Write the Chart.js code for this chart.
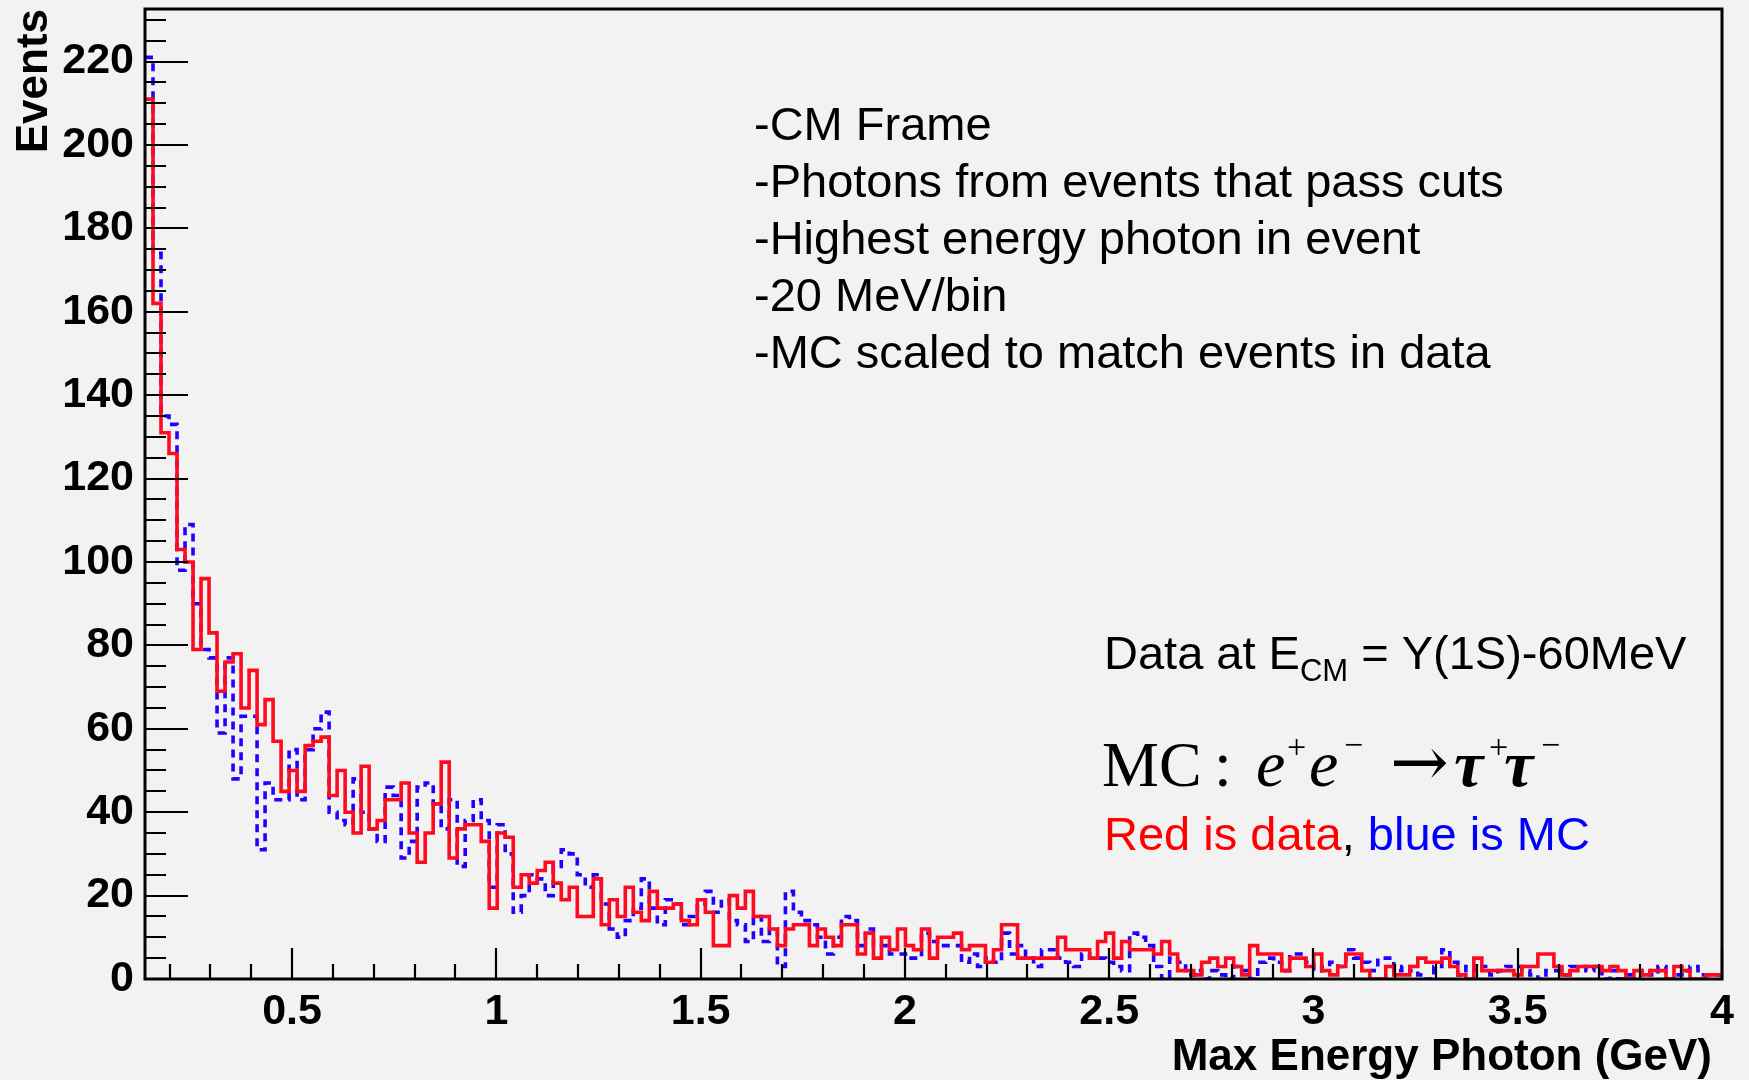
<!DOCTYPE html>
<html>
<head>
<meta charset="utf-8">
<script src="https://cdn.jsdelivr.net/npm/chart.js@4.4.1/dist/chart.umd.min.js"></script>
<style>
html,body{margin:0;padding:0;background:#f2f2f2;}
canvas{display:block;}
</style>
</head>
<body>
<canvas id="c" width="1749" height="1080"></canvas>
<script>
// ---- axis ranges ----
const xMin = 0.14;
const xMax = 4.0;
const yMin = 0;
const yMax = 232.6;

// ---- histogram contents (events per bin, bins of equal width from xMin to xMax) ----
const dataCounts = [
 211,162,131,126,103,100,79,96,83,69,76,78,65,74,61,67,57,45,50,45,
 56,57,58,44,50,40,35,51,36,38,43,43,47,35,28,35,42,52,29,36,37,37,33,17,
 35,34,22,25,23,26,28,23,19,22,15,15,24,13,19,15,22,16,14,21,17,17,18,14,13,19,
 16,8,8,20,17,21,15,15,12,8,12,13,13,8,12,10,8,13,13,6,11,5,10,7,
 12,8,7,12,5,10,10,11,7,8,8,4,7,13,13,5,5,5,5,5,10,7,7,7,
 5,9,11,5,9,7,7,7,6,9,6,2,2,1,4,5,3,5,3,1,8,6,6,6,2,5,
 5,3,6,2,1,3,6,6,2,0,0,3,1,1,3,5,4,4,5,3,1,0,5,2,2,2,
 2,1,3,3,6,6,3,1,2,3,3,3,2,3,2,0,2,1,2,2,0,3,2,0,0,1,1
];
const mcCounts = [
 221,174,135,133,98,109,90,79,77,59,77,48,63,63,31,47,43,43,55,43,
 55,60,64,40,38,37,48,40,36,33,46,44,29,33,46,47,42,36,43,27,38,43,38,22,
 37,30,16,20,25,24,20,27,31,30,25,22,25,18,12,10,14,17,24,17,13,19,18,13,15,18,
 21,16,19,14,13,9,15,9,12,3,21,16,14,13,10,6,10,15,14,8,12,8,8,6,
 6,5,5,11,9,8,8,8,4,6,3,5,4,11,6,8,5,3,7,7,5,4,3,6,
 5,5,4,3,2,11,10,8,3,0,5,4,1,2,0,2,1,0,3,2,0,4,5,4,2,6,
 6,4,2,3,4,3,7,5,4,2,5,5,2,3,2,1,0,3,7,4,1,3,2,3,1,2,
 3,3,2,1,0,2,2,1,3,3,2,3,0,2,0,1,1,2,1,3,0,1,2,3,1,1,1
];

// ---- tick labels ----
const xTickValues = [0.5, 1, 1.5, 2, 2.5, 3, 3.5, 4];
const xTickLabels = ['0.5', '1', '1.5', '2', '2.5', '3', '3.5', '4'];
const yTickValues = [0, 20, 40, 60, 80, 100, 120, 140, 160, 180, 200, 220];
const yTickLabels = ['0', '20', '40', '60', '80', '100', '120', '140', '160', '180', '200', '220'];

// ---- texts ----
const xTitle = 'Max Energy Photon (GeV)';
const yTitle = 'Events';
const noteLines = ['-CM Frame', '-Photons from events that pass cuts', '-Highest energy photon in event', '-20 MeV/bin', '-MC scaled to match events in data'];

// build step-histogram points (left bin edges + closing point)
function histPoints(counts) {
  const w = (xMax - xMin) / counts.length;
  const pts = counts.map((v, i) => ({x: xMin + i * w, y: v}));
  pts.push({x: xMax, y: counts[counts.length - 1]});
  return pts;
}

const SANS = '"Liberation Sans", Arial, Helvetica, sans-serif';
const SERIF = '"Liberation Serif", "Times New Roman", serif';

const rootFrame = {
  id: 'rootFrame',
  beforeDraw(chart) {
    const ctx = chart.ctx;
    ctx.save();
    ctx.fillStyle = '#f2f2f2';
    ctx.fillRect(0, 0, chart.width, chart.height);
    ctx.restore();
  },
  afterDatasetsDraw(chart) {
    const ctx = chart.ctx, a = chart.chartArea;
    const xs = chart.scales.x, ys = chart.scales.y;
    ctx.save();
    ctx.strokeStyle = '#000';
    ctx.lineWidth = 2.2;
    ctx.beginPath();
    // x ticks: every 0.1, major every 0.5
    for (let k = 2; k <= 40; k++) {
      const v = k / 10;
      const px = Math.round(xs.getPixelForValue(v));
      const len = (k % 5 === 0) ? 31 : 15;
      ctx.moveTo(px, a.bottom);
      ctx.lineTo(px, a.bottom - len);
    }
    // y ticks: every 5, major every 20
    for (let v = 5; v <= 230; v += 5) {
      const py = Math.round(ys.getPixelForValue(v));
      const len = (v % 20 === 0) ? 43 : 21;
      ctx.moveTo(a.left, py);
      ctx.lineTo(a.left + len, py);
    }
    ctx.stroke();
    ctx.lineWidth = 3;
    ctx.strokeRect(a.left, a.top, a.right - a.left, a.bottom - a.top);
    ctx.restore();
  },
  afterDraw(chart) {
    const ctx = chart.ctx;
    ctx.save();
    ctx.textBaseline = 'alphabetic';
    ctx.fillStyle = '#000';
    // axis titles
    ctx.font = 'bold 44px ' + SANS;
    ctx.textAlign = 'right';
    ctx.fillText(xTitle, 1712, 1070);
    ctx.save();
    ctx.translate(47, 9);
    ctx.rotate(-Math.PI / 2);
    ctx.font = 'bold 44px ' + SANS;
    ctx.textAlign = 'right';
    ctx.fillText(yTitle, 0, 0);
    ctx.restore();

    // notes
    ctx.textAlign = 'left';
    ctx.font = '47px ' + SANS;
    noteLines.forEach((t, i) => ctx.fillText(t, 754, 140 + i * 57));

    // Data at E_CM line
    let x = 1104;
    ctx.font = '47px ' + SANS;
    ctx.fillText('Data at E', x, 669);
    x += ctx.measureText('Data at E').width;
    ctx.font = '31px ' + SANS;
    ctx.fillText('CM', x, 681);
    x += ctx.measureText('CM').width;
    ctx.font = '47px ' + SANS;
    ctx.fillText(' = Y(1S)-60MeV', x, 669);

    // MC : e+e- -> tau+tau-
    const base = 786;
    ctx.font = '64px ' + SERIF;
    ctx.fillText('MC', 1102, base);
    ctx.fillText(':', 1214, base);
    ctx.font = 'italic 66px ' + SERIF;
    ctx.fillText('e', 1256, base);
    ctx.fillText('e', 1309, base);
    ctx.font = '34px ' + SERIF;
    ctx.fillText('+', 1287, 758);
    ctx.fillText('\u2212', 1344, 756);
    ctx.font = '70px "DejaVu Serif", ' + SERIF;
    ctx.fillText('\u2192', 1390, base);
    ctx.font = 'italic bold 66px ' + SERIF;
    ctx.fillText('\u03c4', 1454, base);
    ctx.fillText('\u03c4', 1504, base);
    ctx.font = '34px ' + SERIF;
    ctx.fillText('+', 1489, 758);
    ctx.fillText('\u2212', 1541, 756);

    // Red is data, blue is MC
    x = 1104;
    ctx.font = '47px ' + SANS;
    ctx.fillStyle = '#ff0000';
    ctx.fillText('Red is data', x, 850);
    x += ctx.measureText('Red is data').width;
    ctx.fillStyle = '#000';
    ctx.fillText(',', x, 850);
    x += ctx.measureText(', ').width;
    ctx.fillStyle = '#0000ff';
    ctx.fillText('blue is MC', x, 850);
    ctx.restore();
  }
};

new Chart(document.getElementById('c'), {
  type: 'line',
  data: {
    datasets: [
      {
        label: 'Data',
        data: histPoints(dataCounts),
        borderColor: '#ff0a1e',
        borderWidth: 3.6,
        stepped: 'before',
        pointRadius: 0,
        fill: false,
        order: 0
      },
      {
        label: 'MC',
        data: histPoints(mcCounts),
        borderColor: '#2200ff',
        borderWidth: 3.6,
        borderDash: [8, 6],
        stepped: 'before',
        pointRadius: 0,
        fill: false,
        order: 1
      }
    ]
  },
  options: {
    responsive: false,
    animation: false,
    devicePixelRatio: 1,
    layout: {padding: {top: 9, right: 27, left: 0, bottom: 0}},
    plugins: {legend: {display: false}, tooltip: {enabled: false}},
    scales: {
      x: {
        type: 'linear',
        min: xMin,
        max: xMax,
        grid: {display: false, drawTicks: false},
        border: {display: false},
        afterBuildTicks: (axis) => { axis.ticks = xTickValues.map(v => ({value: v})); },
        afterFit: (axis) => { axis.height = 101; axis.paddingLeft = 0; axis.paddingRight = 0; },
        ticks: {
          autoSkip: false,
          maxRotation: 0,
          padding: 7,
          color: '#000',
          font: {family: SANS, size: 43, weight: 'bold'},
          callback: (v, i) => xTickLabels[i]
        }
      },
      y: {
        type: 'linear',
        min: yMin,
        max: yMax,
        grid: {display: false, drawTicks: false},
        border: {display: false},
        afterBuildTicks: (axis) => { axis.ticks = yTickValues.map(v => ({value: v})); },
        afterFit: (axis) => { axis.width = 145; axis.paddingTop = 0; axis.paddingBottom = 0; },
        ticks: {
          autoSkip: false,
          padding: 11,
          color: '#000',
          font: {family: SANS, size: 43, weight: 'bold'},
          callback: (v, i) => yTickLabels[i]
        }
      }
    }
  },
  plugins: [rootFrame]
});
</script>
</body>
</html>
